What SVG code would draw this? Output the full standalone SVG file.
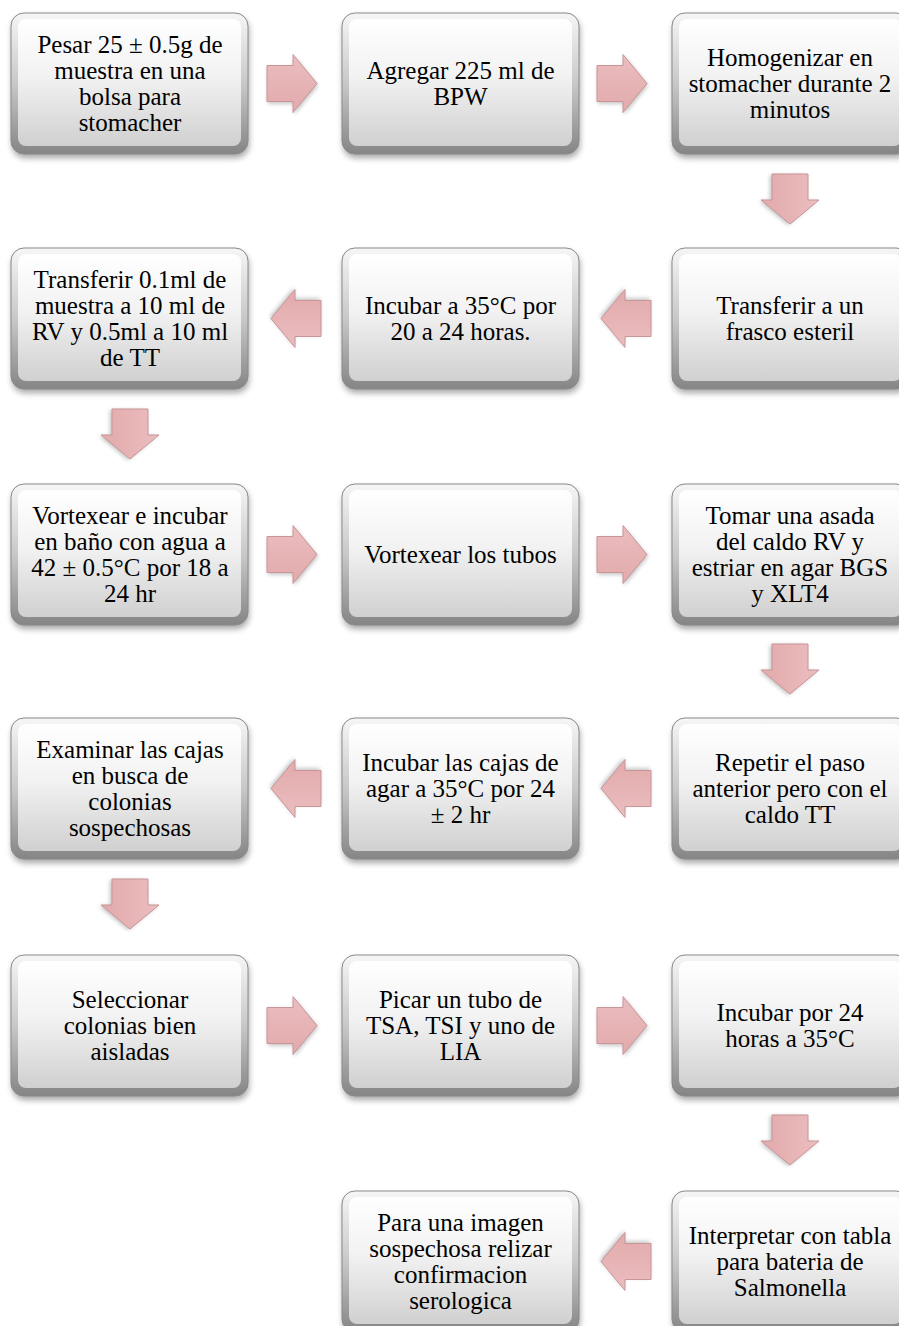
<svg xmlns="http://www.w3.org/2000/svg" xmlns:xlink="http://www.w3.org/1999/xlink" width="899" height="1326" viewBox="0 0 899 1326">
<style>
text{font-family:"Liberation Serif","Times New Roman",serif;font-size:25px;fill:#000;text-anchor:middle}
.arr{fill:url(#pink);stroke:#c99597;stroke-width:1}
</style>
<defs>
<filter id="blur" x="-10%" y="-10%" width="120%" height="130%"><feGaussianBlur stdDeviation="3"/></filter>
<filter id="ablur" x="-20%" y="-20%" width="140%" height="140%"><feGaussianBlur stdDeviation="2"/></filter>
<linearGradient id="edge" x1="0" y1="0" x2="0" y2="1">
<stop offset="0" stop-color="#f6f6f6"/><stop offset="0.5" stop-color="#c8c8c8"/><stop offset="1" stop-color="#858585"/>
</linearGradient>
<linearGradient id="face" x1="0" y1="0" x2="0" y2="1">
<stop offset="0" stop-color="#ffffff"/><stop offset="0.45" stop-color="#f2f2f2"/><stop offset="1" stop-color="#d0d0d0"/>
</linearGradient>
<linearGradient id="pink" x1="0" y1="0" x2="0" y2="1">
<stop offset="0" stop-color="#ebbdbf"/><stop offset="1" stop-color="#e2aaac"/>
</linearGradient>
<g id="box">
<rect x="1" y="4" width="237" height="141" rx="13" fill="#000" opacity="0.35" filter="url(#blur)"/>
<rect x="0" y="0" width="237" height="141" rx="13" fill="url(#edge)" stroke="#8a8a8a" stroke-width="1"/>
<rect x="7" y="6" width="223" height="127" rx="8" fill="url(#face)"/>
</g>
<g id="arrow">
<path d="M1,-16 H27 V-27 L51,2 L27,31 V20 H1 Z" fill="#000" opacity="0.25" filter="url(#ablur)"/>
<path class="arr" d="M0,-18 H26 V-29 L50,0 L26,29 V18 H0 Z"/>
</g>
</defs>

<g id="connectors">
<use href="#arrow" transform="translate(267,83.5)"/>
<use href="#arrow" transform="translate(597,83.5)"/>
<use href="#arrow" transform="translate(790,174) rotate(90)"/>
<use href="#arrow" transform="translate(651,318.5) rotate(180)"/>
<use href="#arrow" transform="translate(321,318.5) rotate(180)"/>
<use href="#arrow" transform="translate(130,409) rotate(90)"/>
<use href="#arrow" transform="translate(267,554.5)"/>
<use href="#arrow" transform="translate(597,554.5)"/>
<use href="#arrow" transform="translate(790,644) rotate(90)"/>
<use href="#arrow" transform="translate(651,788.5) rotate(180)"/>
<use href="#arrow" transform="translate(321,788.5) rotate(180)"/>
<use href="#arrow" transform="translate(130,879) rotate(90)"/>
<use href="#arrow" transform="translate(267,1025.5)"/>
<use href="#arrow" transform="translate(597,1025.5)"/>
<use href="#arrow" transform="translate(790,1115) rotate(90)"/>
<use href="#arrow" transform="translate(651,1261.5) rotate(180)"/>
</g>

<g id="n1"><use href="#box" x="11" y="13"/>
<text x="130" y="52.5">Pesar 25 ± 0.5g de</text><text x="130" y="78.5">muestra en una</text><text x="130" y="104.5">bolsa para</text><text x="130" y="130.5">stomacher</text></g>
<g id="n2"><use href="#box" x="342" y="13"/>
<text x="460.5" y="78.5">Agregar 225 ml de</text><text x="460.5" y="104.5">BPW</text></g>
<g id="n3"><use href="#box" x="672" y="13"/>
<text x="790" y="65.5">Homogenizar en</text><text x="790" y="91.5">stomacher durante 2</text><text x="790" y="117.5">minutos</text></g>

<g id="n4"><use href="#box" x="672" y="248"/>
<text x="790" y="313.5">Transferir a un</text><text x="790" y="339.5">frasco esteril</text></g>
<g id="n5"><use href="#box" x="342" y="248"/>
<text x="460.5" y="313.5">Incubar a 35°C por</text><text x="460.5" y="339.5">20 a 24 horas.</text></g>
<g id="n6"><use href="#box" x="11" y="248"/>
<text x="130" y="287.5">Transferir 0.1ml de</text><text x="130" y="313.5">muestra a 10 ml de</text><text x="130" y="339.5">RV y 0.5ml a 10 ml</text><text x="130" y="365.5">de TT</text></g>

<g id="n7"><use href="#box" x="11" y="484"/>
<text x="130" y="523.5">Vortexear e incubar</text><text x="130" y="549.5">en baño con agua a</text><text x="130" y="575.5">42 ± 0.5°C por 18 a</text><text x="130" y="601.5">24 hr</text></g>
<g id="n8"><use href="#box" x="342" y="484"/>
<text x="460.5" y="562.5">Vortexear los tubos</text></g>
<g id="n9"><use href="#box" x="672" y="484"/>
<text x="790" y="523.5">Tomar una asada</text><text x="790" y="549.5">del caldo RV y</text><text x="790" y="575.5">estriar en agar BGS</text><text x="790" y="601.5">y XLT4</text></g>

<g id="n10"><use href="#box" x="672" y="718"/>
<text x="790" y="770.5">Repetir el paso</text><text x="790" y="796.5">anterior pero con el</text><text x="790" y="822.5">caldo TT</text></g>
<g id="n11"><use href="#box" x="342" y="718"/>
<text x="460.5" y="770.5">Incubar las cajas de</text><text x="460.5" y="796.5">agar a 35°C por 24</text><text x="460.5" y="822.5">± 2 hr</text></g>
<g id="n12"><use href="#box" x="11" y="718"/>
<text x="130" y="757.5">Examinar las cajas</text><text x="130" y="783.5">en busca de</text><text x="130" y="809.5">colonias</text><text x="130" y="835.5">sospechosas</text></g>

<g id="n13"><use href="#box" x="11" y="955"/>
<text x="130" y="1007.5">Seleccionar</text><text x="130" y="1033.5">colonias bien</text><text x="130" y="1059.5">aisladas</text></g>
<g id="n14"><use href="#box" x="342" y="955"/>
<text x="460.5" y="1007.5">Picar un tubo de</text><text x="460.5" y="1033.5">TSA,  TSI y uno de</text><text x="460.5" y="1059.5">LIA</text></g>
<g id="n15"><use href="#box" x="672" y="955"/>
<text x="790" y="1020.5">Incubar por 24</text><text x="790" y="1046.5">horas a 35°C</text></g>

<g id="n16"><use href="#box" x="672" y="1191"/>
<text x="790" y="1243.5">Interpretar con tabla</text><text x="790" y="1269.5">para bateria de</text><text x="790" y="1295.5">Salmonella</text></g>
<g id="n17"><use href="#box" x="342" y="1191"/>
<text x="460.5" y="1230.5">Para una imagen</text><text x="460.5" y="1256.5">sospechosa relizar</text><text x="460.5" y="1282.5">confirmacion</text><text x="460.5" y="1308.5">serologica</text></g>
</svg>
